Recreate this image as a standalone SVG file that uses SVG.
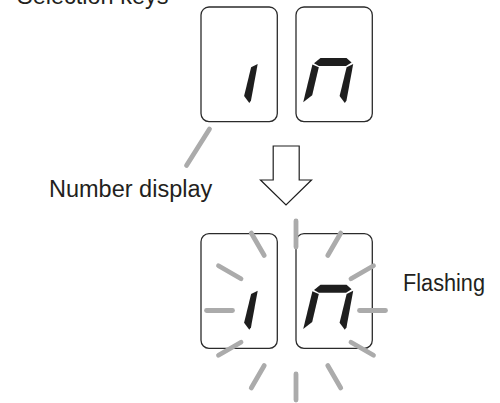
<svg xmlns="http://www.w3.org/2000/svg" xmlns:xlink="http://www.w3.org/1999/xlink" width="500" height="403" viewBox="0 0 500 403">
<style>
.box{fill:#fff;stroke:#2b2b2b;stroke-width:1.3}
.seg{fill:#1e1e1e}
.ray{stroke:#ababab;stroke-width:4.8;stroke-linecap:round;fill:none}
.lbl{font-family:"Liberation Sans",Arial,sans-serif;font-size:23.5px;fill:#231f20}
.arrow{fill:#fff;stroke:#1e1e1e;stroke-width:1.2;stroke-linejoin:miter}
</style>
<defs>
<polygon id="segR" points="346.6,67.2 353.2,64 346.5,100.6 344.8,103 339.6,96"/>
<g id="digitN">
<polygon points="314,63.2 320.5,58 346.5,58 351.6,62.5 346,66 318.8,66"/>
<polygon points="312.4,64.6 318.8,67.3 312.2,95.3 303.2,102.2"/>
<use xlink:href="#segR"/>
</g>
</defs>
<text class="lbl" x="17" y="4">Selection keys</text>
<g id="top-key1">
<rect class="box" x="201" y="7" width="76.3" height="114.6" rx="8"/>
<use class="seg" xlink:href="#segR" transform="translate(-95.5,0)"/>
</g>
<g id="top-key2">
<rect class="box" x="296" y="7" width="76.3" height="114.6" rx="8"/>
<use class="seg" xlink:href="#digitN"/>
</g>
<g id="number-display-label">
<text class="lbl" x="49" y="197">Number display</text>
</g>
<g id="connectors">
<line class="ray" x1="209.5" y1="129" x2="186.5" y2="165.5" stroke-linecap="butt"/>
</g>
<g id="down-arrow">
<polygon class="arrow" points="273.2,146 299.2,146 299.2,180 311.5,180 286,205 260.5,180 273.2,180"/>
</g>
<g id="bottom-key1">
<rect class="box" x="201" y="233.7" width="76.3" height="114.6" rx="8"/>
<use class="seg" xlink:href="#segR" transform="translate(-95.5,226.7)"/>
</g>
<g id="bottom-key2">
<rect class="box" x="296" y="233.7" width="76.3" height="114.6" rx="8"/>
<use class="seg" xlink:href="#digitN" transform="translate(0,226.7)"/>
</g>
<g id="flash-rays" transform="translate(296,310.5)">
<line class="ray" x1="0" y1="-63.5" x2="0" y2="-89.5"/>
<line class="ray" x1="0" y1="-63.5" x2="0" y2="-89.5" transform="rotate(30)"/>
<line class="ray" x1="0" y1="-63.5" x2="0" y2="-89.5" transform="rotate(60)"/>
<line class="ray" x1="0" y1="-63.5" x2="0" y2="-89.5" transform="rotate(90)"/>
<line class="ray" x1="0" y1="-63.5" x2="0" y2="-89.5" transform="rotate(120)"/>
<line class="ray" x1="0" y1="-63.5" x2="0" y2="-89.5" transform="rotate(150)"/>
<line class="ray" x1="0" y1="-63.5" x2="0" y2="-89.5" transform="rotate(180)"/>
<line class="ray" x1="0" y1="-63.5" x2="0" y2="-89.5" transform="rotate(210)"/>
<line class="ray" x1="0" y1="-63.5" x2="0" y2="-89.5" transform="rotate(240)"/>
<line class="ray" x1="0" y1="-63.5" x2="0" y2="-89.5" transform="rotate(270)"/>
<line class="ray" x1="0" y1="-63.5" x2="0" y2="-89.5" transform="rotate(300)"/>
<line class="ray" x1="0" y1="-63.5" x2="0" y2="-89.5" transform="rotate(330)"/>
</g>
<g id="flashing-label">
<text class="lbl" x="403" y="291" textLength="82" lengthAdjust="spacingAndGlyphs">Flashing</text>
</g>
</svg>
